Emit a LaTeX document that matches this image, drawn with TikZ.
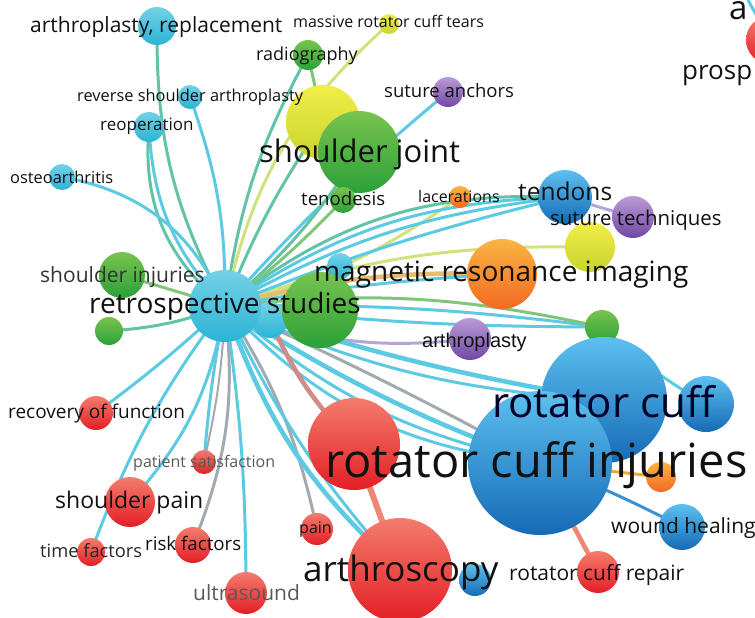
\documentclass[tikz,border=0pt]{standalone}
\usepackage{fontspec}
\setmainfont{Open Sans}
\newfontfamily\arialf{Liberation Sans}
\newcommand\lfs[1]{\fontsize{#1}{#1}\selectfont}
\definecolor{cyT}{HTML}{74D1E7}\definecolor{cyB}{HTML}{2AB4D5}
\definecolor{grT}{HTML}{78C44E}\definecolor{grB}{HTML}{2BA03A}
\definecolor{yeT}{HTML}{F2EE48}\definecolor{yeB}{HTML}{C8D42E}
\definecolor{puT}{HTML}{BC9AD6}\definecolor{puB}{HTML}{7048A6}
\definecolor{orT}{HTML}{FBB442}\definecolor{orB}{HTML}{F26A22}
\definecolor{blT}{HTML}{5CC0EF}\definecolor{blB}{HTML}{166AB6}
\definecolor{reT}{HTML}{F47C6C}\definecolor{reB}{HTML}{E41E26}
\definecolor{ecy}{HTML}{5CCAE3}
\definecolor{eteal}{HTML}{62C3A6}
\definecolor{egreen}{HTML}{80C67A}
\definecolor{eyel}{HTML}{CFE27C}
\definecolor{etan}{HTML}{E6BC70}
\definecolor{egrey}{HTML}{A2AAB0}
\definecolor{erose}{HTML}{CF8C88}
\definecolor{elav}{HTML}{B4A4DA}
\definecolor{esal}{HTML}{F08676}
\definecolor{eblue}{HTML}{3C90D6}
\definecolor{eora}{HTML}{F5A82A}
\definecolor{txt}{HTML}{111111}
\pgfdeclarelayer{edges}
\pgfdeclarelayer{labels}
\pgfsetlayers{edges,main,labels}
\begin{document}
\begin{tikzpicture}[x=1pt,y=-1pt,
  ball/.style={circle,inner sep=0pt,minimum size=#1},
  cyb/.style={ball=#1,top color=cyT,bottom color=cyB},
  grb/.style={ball=#1,top color=grT,bottom color=grB},
  yeb/.style={ball=#1,top color=yeT,bottom color=yeB},
  pub/.style={ball=#1,top color=puT,bottom color=puB},
  orb/.style={ball=#1,top color=orT,bottom color=orB},
  blb/.style={ball=#1,top color=blT,bottom color=blB},
  reb/.style={ball=#1,top color=reT,bottom color=reB},
  lbl/.style={inner sep=0pt,anchor=base west,text=txt},
  ed/.style={line width=3pt,draw=#1,line cap=round},
  edk/.style={line width=4.6pt,draw=#1,line cap=round},
  edt/.style={line width=2pt,draw=#1,line cap=round},
]
\useasboundingbox (0,0) rectangle (755,618);
\clip (0,0) rectangle (755,618);

% ---------- nodes ----------
\node[cyb=38] (arep) at (157,26) {};
\node[cyb=24] (rsa) at (190,97) {};
\node[cyb=30] (reop) at (149,127) {};
\node[cyb=26] (osteo) at (62,177) {};
\node[grb=30] (rad) at (308,55) {};
\node[yeb=20] (mrct) at (389,24) {};
\node[yeb=74] (yel1) at (323,122) {};
\node[grb=82] (sj) at (359,152) {};
\node[grb=26] (teno) at (343,200) {};
\node[pub=30] (sanch) at (448,92) {};
\node[orb=22] (lac) at (460,197) {};
\node[blb=54] (tend) at (565,197) {};
\node[pub=42] (stech) at (633,217) {};
\node[yeb=50] (yel2) at (590,247) {};
\node[cyb=26] (cymag) at (340,266) {};
\node[orb=70] (mri) at (502,274) {};
\node[grb=46] (sinj) at (122,275) {};
\node[grb=28] (sg) at (109,331) {};
\node[cyb=36] (cy2) at (270,320) {};
\node[cyb=72] (hub) at (225,306) {};
\node[grb=76] (bg) at (320,310) {};
\node[pub=42] (arth) at (470,339) {};
\node[grb=34] (gsm) at (602,327) {};
\node[blb=56] (rcb) at (706,404) {};
\node[blb=126] (rc) at (604,400) {};
\node[orb=30] (osm) at (661,477) {};
\node[blb=144] (rci) at (540,463) {};
\node[reb=92] (rciR) at (354,444) {};
\node[blb=46] (wh) at (682,527) {};
\node[blb=32] (bsm) at (475,580) {};
\node[reb=104] (arsc) at (400,570) {};
\node[reb=42] (rcrep) at (598,572) {};
\node[reb=34] (rof) at (96,413) {};
\node[reb=24] (ps) at (204,462) {};
\node[reb=50] (sp) at (130,502) {};
\node[reb=28] (tf) at (91,552) {};
\node[reb=36] (rf) at (193,545) {};
\node[reb=32] (pain) at (317,529) {};
\node[reb=42] (us) at (246,593) {};
\node[reb=48] (tr) at (770,40) {};
\coordinate (toptr) at (748,0);

% ---------- edges ----------
\begin{pgfonlayer}{edges}
\draw[ed=eteal] (hub.center) to[bend left=14] (arep.center);
\draw[ed=ecy] (hub.center) to[bend right=10] (rsa.center);
\draw[ed=ecy] (hub.center) to[bend left=20] (reop.center);
\draw[ed=eteal] (hub.center) to[bend left=28] (reop.center);
\draw[ed=ecy] (hub.center) to[bend right=28] (osteo.center);
\draw[ed=eteal] (hub.center) to[bend left=10] (rad.center);
\draw[ed=eyel] (hub.center) to[bend left=18] (mrct.center);
\draw[ed=eteal] (hub.center) to[bend left=6] (yel1.center);
\draw[ed=ecy] (hub.center) to[bend left=4] (sanch.center);
\draw[ed=eteal] (hub.center) to[bend right=8] (sj.center);
\draw[ed=egreen] (hub.center) to[bend right=4] (teno.center);
\draw[ed=eyel] (hub.center) to[bend right=10] (lac.center);
\draw[ed=ecy] (hub.center) to[bend left=16] (tend.center);
\draw[ed=ecy] (hub.center) to[bend left=11] (tend.center);
\draw[ed=eteal] (hub.center) to[bend left=20] (tend.center);
\draw[ed=eyel] (hub.center) to[bend left=10] (yel2.center);
\draw[edk=etan] (hub.center) to[bend left=8] (mri.center);
\draw[ed=ecy] (hub.center) to[bend left=3] (mri.center);
\draw[ed=ecy] (hub.center) to[bend left=4] (gsm.center);
\draw[ed=egreen] (hub.center) to[bend left=9] (gsm.center);
\draw[ed=ecy] (hub.center) to[bend right=3] (gsm.center);
\draw[ed=elav] (hub.center) to[bend right=14] (arth.center);
\draw[edk=ecy] (hub.center) to[bend right=4] (rc.center);
\draw[ed=ecy] (hub.center) to[bend right=10] (rc.center);
\draw[ed=egrey] (hub.center) to[bend left=2] (rci.center);
\draw[edk=ecy] (hub.center) to[bend right=6] (rci.center);
\draw[ed=ecy] (hub.center) to[bend right=14] (rci.center);
\draw[ed=ecy] (hub.center) to[bend right=20] (rci.center);
\draw[edk=erose] (cy2.center) to[bend right=10] (rciR.center);
\draw[ed=egreen] (hub.center) to (sinj.center);
\draw[ed=eteal] (hub.center) to[bend left=8] (sg.center);
\draw[ed=ecy] (hub.center) to[bend left=3] (rof.center);
\draw[ed=ecy] (hub.center) to[bend right=8] (tf.center);
\draw[ed=ecy] (hub.center) to[bend left=16] (sp.center);
\draw[ed=ecy] (hub.center) to[bend right=3] (ps.center);
\draw[edt=egrey] (hub.center) to[bend left=5] (ps.center);
\draw[ed=egrey] (hub.center) to[bend left=14] (rf.center);
\draw[ed=ecy] (hub.center) to[bend left=4] (us.center);
\draw[ed=egrey] (hub.center) to[bend left=10] (pain.center);
\draw[edk=ecy] (hub.center) to[bend right=14] (arsc.center);
\draw[ed=ecy] (hub.center) to[bend right=8] (arsc.center);
\draw[ed=egreen] (rad.center) to (yel1.center);
\draw[ed=ecy] (tend.center) to[bend right=4] (hub.center);
\draw[ed=elav] (tend.center) to (stech.center);
\draw[ed=ecy] (gsm.center) to[bend right=6] (rcb.center);
\draw[ed=eora] (rci.center) to (osm.center);
\draw[ed=eblue] (rci.center) to[bend left=3] (wh.center);
\draw[edk=esal] (rci.center) to (rcrep.center);
\draw[line width=6pt,draw=esal] (rciR.center) to (arsc.center);
\draw[ed=ecy] (tr.center) to (toptr);
\end{pgfonlayer}

% ---------- labels ----------
\begin{pgfonlayer}{labels}
\node[lbl,font=\lfs{21}] (t1) at (30,33) {arthroplasty, replacement};
\node[lbl,font=\lfs{16}] (t2) at (293,28) {massive rotator cuff tears};
\node[lbl,font=\lfs{18}] (t3) at (256,60) {radiography};
\node[lbl,font=\lfs{16.4}] (t4) at (77,102) {reverse shoulder arthroplasty};
\node[lbl,font=\lfs{18.5}] (t5) at (384,97) {suture anchors};
\node[lbl,font=\lfs{17}] (t6) at (100,130) {reoperation};
\node[lbl,font=\lfs{31}] (t7) at (259,162) {shoulder joint};
\node[lbl,font=\lfs{16.4}] (t8) at (10,183) {osteoarthritis};
\node[lbl,font=\lfs{18.6}] (t9) at (301,205) {tenodesis};
\node[lbl,font=\lfs{16}] (t10) at (418,202) {lacerations};
\node[lbl,font=\lfs{24.5}] (t11) at (518,200) {tendons};
\node[lbl,font=\lfs{20.4}] (t12) at (550,225) {suture techniques};
\node[lbl,font=\lfs{21},text=black!80] (t13) at (40,282) {shoulder injuries};
\node[lbl,font=\lfs{28}] (t14) at (314,281) {magnetic resonance imaging};
\node[lbl,font=\lfs{28}] (t15) at (89,313) {retrospective studies};
\node[lbl,font=\arialf\lfs{20}] (t16) at (422,347) {arthroplasty};
\node[lbl,font=\lfs{42},text=black!85!blue] (t17) at (492,417) {rotator cuff};
\node[lbl,font=\lfs{19}] (t18) at (8,418) {recovery of function};
\node[lbl,font=\lfs{47}] (t19) at (325,477) {rotator cuff injuries};
\node[lbl,font=\lfs{16},text=black!65] (t20) at (133,467) {patient satisfaction};
\node[lbl,font=\lfs{23}] (t21) at (55,508) {shoulder pain};
\node[lbl,font=\lfs{21}] (t22) at (611,533) {wound healing};
\node[lbl,font=\lfs{18.3},text=black!85] (t23) at (40,557) {time factors};
\node[lbl,font=\lfs{18.7}] (t24) at (145,550) {risk factors};
\node[lbl,font=\lfs{16}] (t25) at (299,533) {pain};
\node[lbl,font=\lfs{35}] (t26) at (303,581) {arthroscopy};
\node[lbl,font=\lfs{21}] (t27) at (509,580) {rotator cuff repair};
\node[lbl,font=\lfs{21},text=black!65] (t28) at (193,600) {ultrasound};
\node[lbl,font=\lfs{33}] (t29) at (729,20) {a};
\node[lbl,font=\lfs{26}] (t30) at (682,80) {prosp};
\end{pgfonlayer}
\end{tikzpicture}
\end{document}
